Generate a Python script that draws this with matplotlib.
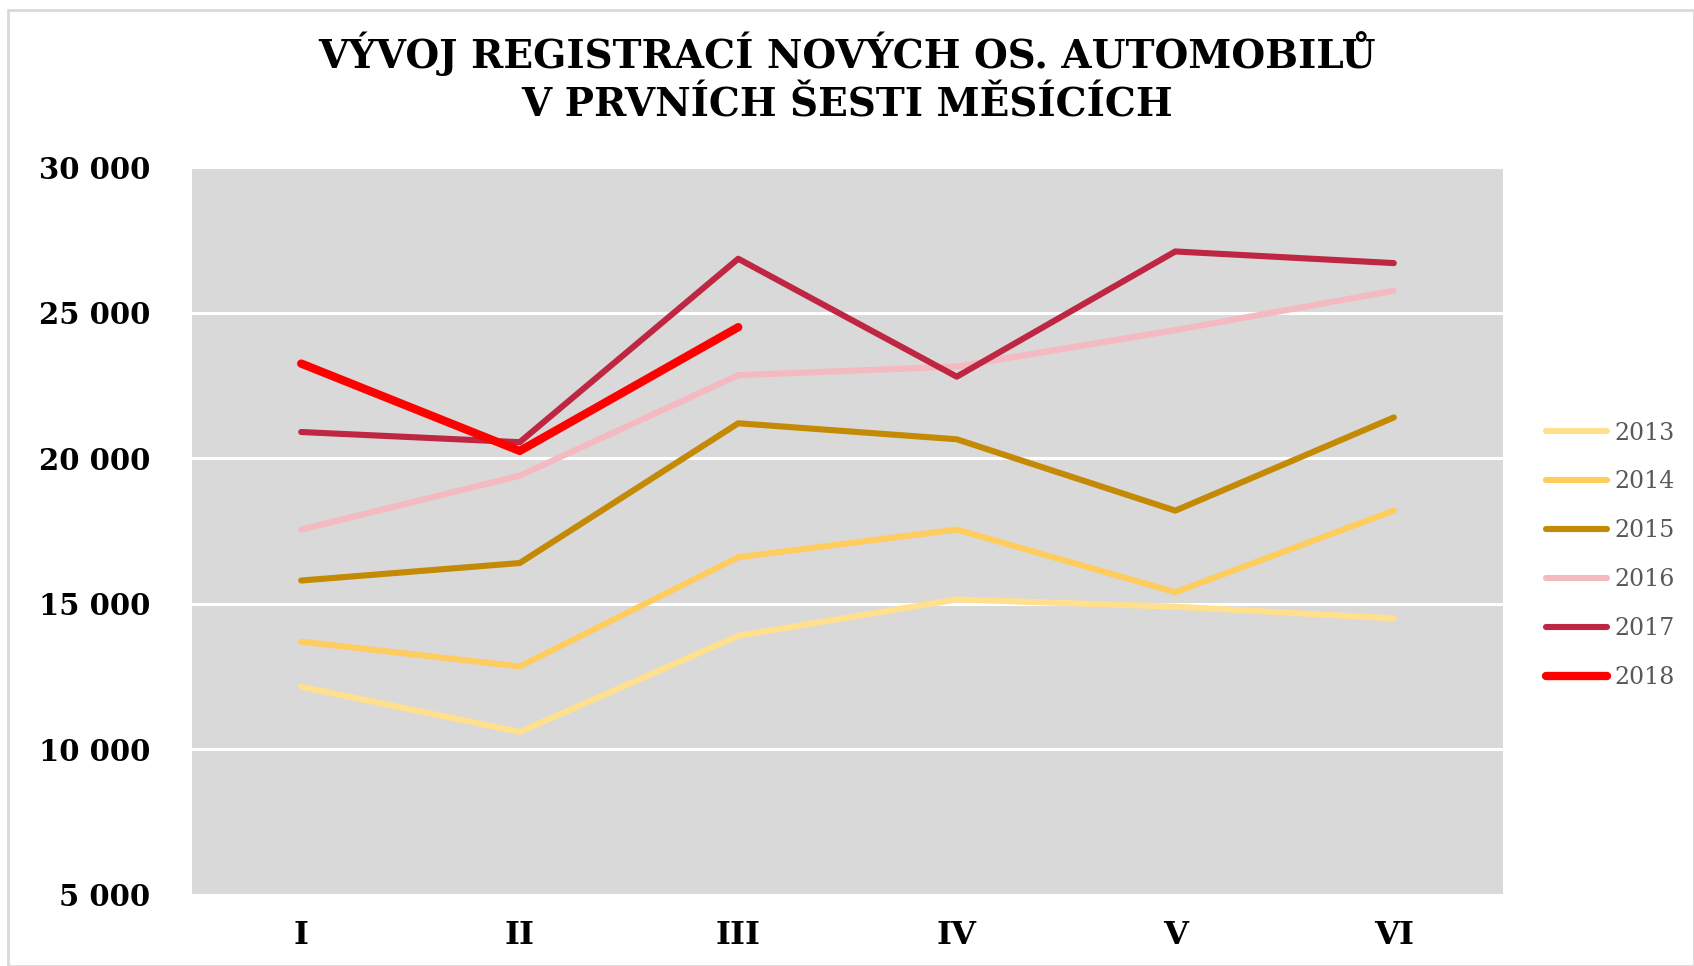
import matplotlib.pyplot as plt
from matplotlib.patches import Rectangle

months = ["I", "II", "III", "IV", "V", "VI"]
years = ["2013", "2014", "2015", "2016", "2017", "2018"]

r2013 = [12150, 10600, 13900, 15150, 14900, 14500]
r2014 = [13700, 12850, 16600, 17550, 15400, 18200]
r2015 = [15800, 16400, 21200, 20650, 18200, 21400]
r2016 = [17550, 19400, 22850, 23150, 24400, 25750]
r2017 = [20900, 20550, 26850, 22800, 27100, 26700]
r2018 = [23250, 20250, 24500]

series = [r2013, r2014, r2015, r2016, r2017, r2018]
colors = ["#FFE08F", "#FFCC5E", "#C48A06", "#F4B9C1", "#BE2641", "#FF0000"]
widths = [4.4, 4.4, 4.4, 4.4, 4.4, 6.0]

fig = plt.figure(figsize=(16.94, 9.66), dpi=100)
ax = fig.add_axes([0.1133, 0.0735, 0.774, 0.7536])
ax.set_facecolor("#D9D9D9")

for vals, col, lw, yr in zip(series, colors, widths, years):
    ax.plot(range(len(vals)), vals, color=col, lw=lw, label=yr,
            solid_capstyle="round", zorder=3)

ax.set_xlim(-0.5, 5.5)
ax.set_ylim(5000, 30000)
ax.set_yticks(range(5000, 30001, 5000))
ax.set_yticklabels([f"{v:,}".replace(",", " ") for v in range(5000, 30001, 5000)],
                   fontfamily="DejaVu Serif", fontweight="bold", fontsize=21)
ax.set_xticks(range(6))
ax.set_xticklabels(months, fontfamily="DejaVu Serif", fontweight="bold", fontsize=23)
ax.tick_params(length=0, pad=18)
ax.tick_params(axis="y", pad=30)
ax.yaxis.grid(True, color="white", lw=2.2)
ax.set_axisbelow(True)
for s in ax.spines.values():
    s.set_visible(False)

fig.suptitle("VÝVOJ REGISTRACÍ NOVÝCH OS. AUTOMOBILŮ\nV PRVNÍCH ŠESTI MĚSÍCÍCH",
             x=0.5, y=0.968, fontfamily="DejaVu Serif", fontweight="bold",
             fontsize=28, linespacing=1.35)

leg = ax.legend(loc="center left", bbox_to_anchor=(0.9, 0.425),
                bbox_transform=fig.transFigure, frameon=False,
                handlelength=2.6, handletextpad=0.3, labelspacing=1.1,
                prop={"family": "DejaVu Serif", "size": 17})
for t in leg.get_texts():
    t.set_color("#595959")

fig.patches.append(Rectangle((0.005, 0.0), 0.995, 0.99, transform=fig.transFigure,
                             fill=False, edgecolor="#D9D9D9", lw=2))

fig.savefig("out.png")
